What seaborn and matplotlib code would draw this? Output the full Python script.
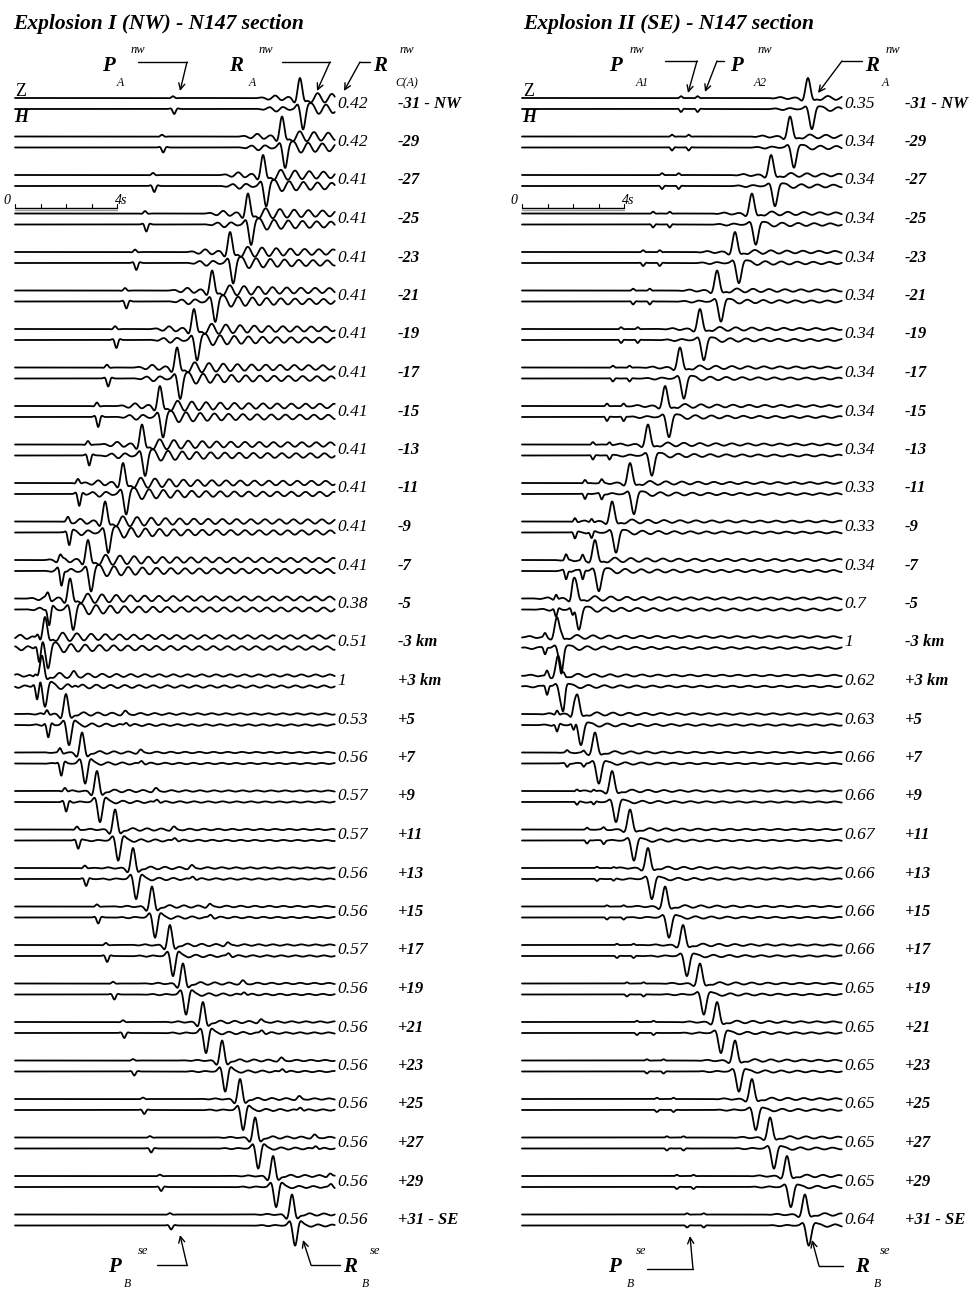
import numpy as np
import pandas as pd
import matplotlib.pyplot as plt
import seaborn as sns

sns.set_theme(style="white")
plt.rcParams["font.family"] = ["Liberation Serif", "DejaVu Serif"]
plt.rcParams["text.color"] = "black"

stations = ["-31 - NW", "-29", "-27", "-25", "-23", "-21", "-19", "-17", "-15",
            "-13", "-11", "-9", "-7", "-5", "-3 km", "+3 km", "+5", "+7", "+9",
            "+11", "+13", "+15", "+17", "+19", "+21", "+23", "+25", "+27", "+29",
            "+31 - SE"]

# amplitude factors printed at the end of each trace pair
amp_I = ["0.42", "0.42", "0.41", "0.41", "0.41", "0.41", "0.41", "0.41", "0.41",
         "0.41", "0.41", "0.41", "0.41", "0.38", "0.51", "1", "0.53", "0.56",
         "0.57", "0.57", "0.56", "0.56", "0.57", "0.56", "0.56", "0.56", "0.56",
         "0.56", "0.56", "0.56"]
amp_II = ["0.35", "0.34", "0.34", "0.34", "0.34", "0.34", "0.34", "0.34", "0.34",
          "0.34", "0.33", "0.33", "0.34", "0.7", "1", "0.62", "0.63", "0.66",
          "0.66", "0.67", "0.66", "0.66", "0.66", "0.65", "0.65", "0.65", "0.65",
          "0.65", "0.65", "0.64"]

# explosion I: arrival times (s) of P and Rayleigh pulses
p_I = [6.17, 5.74, 5.39, 5.08, 4.69, 4.30, 3.91, 3.59, 3.20, 2.85, 2.46, 2.07,
       1.76, 1.29, 0.90, 0.82, 1.25, 1.76, 1.95, 2.42, 2.73, 3.20, 3.55, 3.83,
       4.22, 4.61, 5.00, 5.27, 5.66, 6.05]
r_I = [11.13, 10.43, 9.69, 9.10, 8.40, 7.70, 6.99, 6.33, 5.66, 4.96, 4.22, 3.52,
       2.85, 2.15, 1.17, 1.05, 1.99, 2.62, 3.20, 3.91, 4.61, 5.35, 6.05, 6.56,
       7.34, 8.09, 8.79, 9.38, 10.08, 10.82]
late_I = [np.nan] * 15 + [2.3, 4.3, 4.9, 5.5, 6.2, 6.9, 7.6, 8.3, 8.9, 9.6,
                          10.4, 11.1, 11.7, 12.3, np.nan]
p_amp_I = [0.25, 0.25, 0.3, 0.35, 0.35, 0.35, 0.4, 0.4, 0.5, 0.5, 0.6, 0.6, 0.7,
           0.75, 0.75, 0.75, 0.65, 0.6, 0.5, 0.4, 0.35, 0.3, 0.3, 0.25, 0.25,
           0.2, 0.2, 0.2, 0.2, 0.2]
coda_I = [0.28, 0.3, 0.3, 0.3, 0.3, 0.3, 0.3, 0.3, 0.3, 0.3, 0.3, 0.3, 0.3,
          0.28, 0.25, 0.15, 0.1, 0.08, 0.08, 0.08, 0.08, 0.08, 0.08, 0.08, 0.08,
          0.07, 0.07, 0.07, 0.07, 0.07]

# explosion II
p_II = [6.21, 5.86, 5.47, 5.12, 4.73, 4.34, 3.87, 3.55, 3.32, 2.77, 2.46, 2.07,
        1.72, 1.33, 0.90, 0.98, 1.37, 1.76, 2.15, 2.54, 2.93, 3.32, 3.71, 4.10,
        4.49, 4.88, 5.27, 5.66, 6.05, 6.45]
r_II = [11.17, 10.47, 9.73, 8.98, 8.32, 7.62, 6.95, 6.17, 5.59, 4.92, 4.22, 3.52,
        2.85, 2.07, 1.37, 1.41, 2.15, 2.85, 3.52, 4.22, 4.92, 5.59, 6.29, 6.95,
        7.62, 8.32, 8.98, 9.69, 10.35, 11.05]
p_amp_II = [0.15, 0.15, 0.15, 0.15, 0.15, 0.15, 0.15, 0.15, 0.2, 0.2, 0.25, 0.3,
            0.4, 0.4, 0.3, 0.4, 0.35, 0.15, 0.15, 0.15, 0.1, 0.1, 0.1, 0.1, 0.1,
            0.1, 0.1, 0.1, 0.1, 0.1]
coda_II = [0.12, 0.12, 0.12, 0.12, 0.12, 0.12, 0.12, 0.12, 0.12, 0.12, 0.12,
           0.12, 0.14, 0.14, 0.12, 0.1, 0.1, 0.08, 0.08, 0.08, 0.08, 0.08, 0.08,
           0.08, 0.08, 0.08, 0.08, 0.08, 0.08, 0.08]

# ---- layout (pixels) ----
W, H = 977, 1292
PX_S = 25.6          # pixels per second
ROW0, PITCH, ZH = 103.5, 38.5, 5.5
PULSE = 20.0
t = np.arange(0, 12.5, 0.01)


def pulse(t, t0, f, s):
    tau = t - t0
    return np.exp(-(tau / s) ** 2) * np.cos(2 * np.pi * f * tau)


def coda(t, t0, f, c, phase=0.0):
    tau = t - t0
    on = 1 / (1 + np.exp(-(tau - 0.3) / 0.08))
    env = on * (0.35 + 0.65 * np.exp(-np.clip(tau - 0.3, 0, None) / 1.8))
    pre = 0.45 * np.exp(-((tau + 0.9) / 0.5) ** 2)
    return c * (env + pre) * np.sin(2 * np.pi * f * tau + phase)


def section_I(i):
    tp, tr, pa, ca, tl = p_I[i], r_I[i], p_amp_I[i], coda_I[i], late_I[i]
    z = pulse(t, tr, 1.7, 0.2) + 0.35 * pa * pulse(t, tp, 2.3, 0.12) + coda(t, tr, 1.8, ca)
    h = (-pulse(t, tr + 0.12, 1.7, 0.2) - pa * pulse(t, tp + 0.05, 2.3, 0.12)
         + coda(t, tr, 1.8, ca, 2.6))
    if not np.isnan(tl):
        z += 0.12 * pulse(t, tl, 2.0, 0.15)
        h += 0.15 * pulse(t, tl + 0.05, 2.0, 0.15)
    return z, h


def section_II(i):
    tp, tr, pa, ca = p_II[i], r_II[i], p_amp_II[i], coda_II[i]
    pp = pulse(t, tp, 2.5, 0.1) + pulse(t, tp + 0.65, 2.5, 0.1)
    z = pulse(t, tr, 1.4, 0.2) + 0.6 * pa * pp + coda(t, tr, 1.6, ca)
    h = -pulse(t, tr + 0.15, 1.4, 0.2) - pa * pp + coda(t, tr, 1.6, ca, 2.2)
    return z, h


def build(fn):
    rows = []
    for i in range(len(stations)):
        base = ROW0 + PITCH * i
        z, h = fn(i)
        rows.append(pd.DataFrame({"t": t, "y": base - ZH - PULSE * z, "trace": f"{i}Z"}))
        rows.append(pd.DataFrame({"t": t, "y": base + ZH - PULSE * h, "trace": f"{i}H"}))
    return pd.concat(rows, ignore_index=True)


fig = plt.figure(figsize=(W / 100, H / 100), dpi=100)
panels = [(section_I, amp_I, 0, 15), (section_II, amp_II, 488, 522)]
for fn, amps, x0, start in panels:
    ax = fig.add_axes([x0 / W, 0, 489 / W, 1])
    df = build(fn)
    sns.lineplot(data=df, x="t", y="y", units="trace", estimator=None, sort=False,
                 color="black", lw=1.3, legend=False, ax=ax)
    ax.set_xlim((x0 - start) / PX_S, (x0 + 489 - start) / PX_S)
    ax.set_ylim(H, 0)
    ax.axis("off")
    # time scale bar
    ax.plot([0, 4], [208, 208], color="black", lw=1.0)
    ax.plot([0, 4], [210, 210], color="0.6", lw=1.0)
    for k in range(5):
        ax.plot([k, k], [208, 204], color="black", lw=0.8)
    for i, (a, s) in enumerate(zip(amps, stations)):
        y = ROW0 + PITCH * i
        ax.text(12.6, y, a, ha="left", va="center", style="italic", fontsize=12.5)
        ax.text(12.6 + 60 / PX_S, y, s, ha="left", va="center",
                style="italic", weight="bold", fontsize=12)

# overlay for labels and arrows, in pixel units
ov = fig.add_axes([0, 0, 1, 1], facecolor="none")
ov.set_xlim(0, W)
ov.set_ylim(H, 0)
ov.axis("off")

bi = dict(style="italic", weight="bold")
ov.text(13, 29, "Explosion I (NW) - N147 section", fontsize=15.5, va="baseline", **bi)
ov.text(523, 29, "Explosion II (SE) - N147 section", fontsize=15.5, va="baseline", **bi)

for x0 in (0, 507):
    ov.text(7 + x0, 200, "0", fontsize=10, style="italic", ha="center", va="center")
    ov.text(121 + x0, 200, "4s", fontsize=10, style="italic", ha="center", va="center")
    ov.text(21 + x0 + (1 if x0 else 0), 92, "Z", fontsize=13, ha="center", va="center")
    ov.text(21 + x0 + (1 if x0 else 0), 118, "H", fontsize=13, ha="center", va="center",
            **bi)


def phase_label(x, y, sup, sub, sx, bx):
    ov.text(x, y, sup[0], fontsize=15, ha="center", va="center", **bi)
    ov.text(x + sx, y - 16, sup[1:], fontsize=9, style="italic", ha="center", va="center")
    ov.text(x + bx, y + 17, sub, fontsize=8.5, style="italic", ha="center", va="center")


def pointer(pts):
    xs, ys = zip(*pts[:-1])
    ov.plot(xs, ys, color="black", lw=1.0)
    ov.annotate("", xy=pts[-1], xytext=pts[-2],
                arrowprops=dict(arrowstyle="->", lw=1.0, color="black",
                                mutation_scale=11, shrinkA=0, shrinkB=0))


# top labels, explosion I
phase_label(108, 66, "Pnw", "A", 30, 12)
pointer([(138, 62), (187, 62), (180, 91)])
phase_label(236, 66, "Rnw", "A", 30, 16)
pointer([(282, 62), (330, 62), (317, 91)])
phase_label(380, 66, "Rnw", "C(A)", 27, 27)
pointer([(370, 62), (360, 62), (344, 91)])
# top labels, explosion II
phase_label(615, 66, "Pnw", "A1", 22, 27)
pointer([(665, 61), (697, 61), (688, 93)])
phase_label(736, 66, "Pnw", "A2", 29, 24)
pointer([(724, 61), (717, 61), (705, 92)])
phase_label(872, 66, "Rnw", "A", 21, 13)
pointer([(862, 61), (842, 61), (818, 93)])
# bottom labels
phase_label(114, 1267, "Pse", "B", 29, 13)
pointer([(157, 1265), (187, 1265), (180, 1235)])
phase_label(350, 1267, "Rse", "B", 25, 15)
pointer([(340, 1265), (311, 1265), (303, 1240)])
phase_label(614, 1267, "Pse", "B", 27, 16)
pointer([(647, 1269), (693, 1269), (690, 1236)])
phase_label(862, 1267, "Rse", "B", 23, 15)
pointer([(843, 1266), (819, 1266), (812, 1240)])

plt.savefig("out.png", dpi=100)
